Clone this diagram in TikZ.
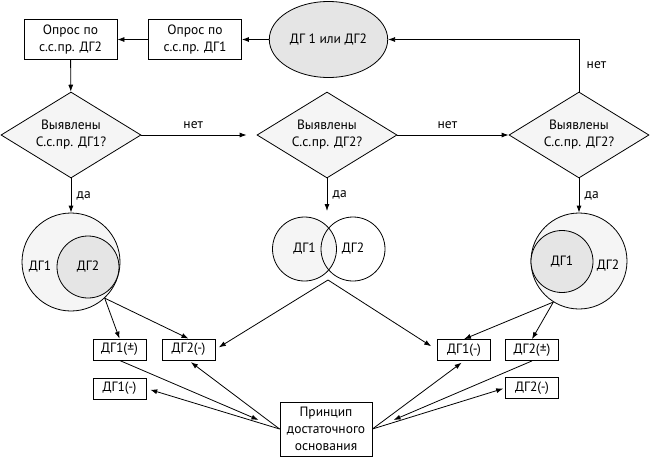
\documentclass[tikz,border=0pt]{standalone}
\usepackage{fontspec}
\setmainfont{PT Sans}
\usepackage{tikz}
\usetikzlibrary{shapes.geometric, arrows.meta}
\definecolor{lightfill}{gray}{0.96}
\definecolor{midfill}{gray}{0.90}
\tikzstyle{arrow} = [line width=0.8pt,-{Latex[length=7pt,width=5pt]}]
\tikzstyle{querybox} = [draw, line width=0.8pt, fill=white, minimum width=93pt, minimum height=40pt, align=center, inner sep=0pt]
\tikzstyle{decision} = [diamond, draw, line width=0.8pt, fill=lightfill, minimum width=140pt, minimum height=86pt, aspect=1.6, align=center, inner sep=0pt]
\tikzstyle{result} = [draw, line width=0.8pt, minimum width=53pt, minimum height=21pt, inner sep=0pt]
\tikzstyle{set} = [circle, draw, line width=0.8pt, inner sep=0pt]

\begin{document}
\begin{tikzpicture}[x=1pt,y=-1pt,font=\fontsize{13.5}{17}\selectfont]
\useasboundingbox (0,0) rectangle (650,456);

%top row
\node[querybox] (ask2) at (70.5,39.5) {Опрос по\\с.с.пр. ДГ2};
\node[querybox] (ask1) at (195,39.5) {Опрос по\\с.с.пр. ДГ1};
\node[ellipse, draw, line width=0.8pt, fill=midfill, minimum width=111pt, minimum height=76pt] (start) at (328.5,39.5) {ДГ 1 или ДГ2};

%questions
\node[decision] (q1) at (71,135) {Выявлены\\С.с.пр. ДГ1?};
\node[decision] (q2) at (327,135) {Выявлены\\С.с.пр. ДГ2?};
\node[decision] (q3) at (579,135) {Выявлены\\С.с.пр. ДГ2?};

%sets
\node[set, fill=lightfill, minimum size=98pt] (big1) at (71,262) {};
\node[set, fill=midfill, minimum size=62pt] (in1) at (88,267) {ДГ2};
\node at (40,267) {ДГ1};

\node[set, fill=lightfill, minimum size=64pt] (v1) at (304.5,249) {ДГ1};
\node[set, minimum size=64pt] (v2) at (353,249) {ДГ2};
\coordinate (venntop) at (327,211);
\coordinate (split) at (328,280);

\node[set, fill=lightfill, minimum size=96pt] (big3) at (579,261) {};
\node[set, fill=midfill, minimum size=62pt] (in3) at (562,261.5) {ДГ1};
\node at (608,266) {ДГ2};

%results
\node[result] (r1p) at (119.5,349.5) {ДГ1(±)};
\node[result] (r2m) at (188.5,349.5) {ДГ2(-)};
\node[result] (r1m) at (119.5,388.5) {ДГ1(-)};
\node[result] (s1m) at (464,350) {ДГ1(-)};
\node[result] (s2p) at (532,350) {ДГ2(±)};
\node[result] (s2m) at (532,388) {ДГ2(-)};
\node[draw, line width=0.8pt, align=center, minimum width=92pt, minimum height=54pt, inner sep=0pt] (reason) at (326,429) {Принцип\\достаточного\\основания};

%flow
\draw[arrow] (start) -- (ask1);
\draw[arrow] (ask1) -- (ask2);
\draw[arrow] (ask2) -- (q1);
\draw[arrow, shorten >=10pt] (q1) -- node[above=3pt, pos=0.45] {нет} (q2);
\draw[arrow] (q2) -- node[above=3pt, pos=0.45] {нет} (q3);
\draw[arrow] (q3.north) |- node[pos=0.25, right=4pt] {нет} (start.east);
\draw[arrow] (q1.south) -- node[right=2pt] {да} (big1.north);
\draw[arrow] (q2.south) -- node[right=2pt] {да} (venntop);
\draw[arrow] (q3.south) -- node[right=2pt] {да} (big3.north);

%to results
\draw[arrow] (big1.-47) -- (r1p.north);
\draw[arrow] (big1.-47) -- (r2m.north);
\draw[arrow, shorten >=4pt] (split) -- (r2m.east);
\draw[arrow, shorten >=7pt] (split) -- (s1m.west);
\draw[arrow] (big3.-122) -- (s1m.north);
\draw[arrow] (big3.-122) -- (s2p.north);

%principle
\draw[arrow, shorten >=3pt] (reason.west) -- (r2m.south);
\draw[arrow, shorten >=4pt] (reason.west) -- (r1m.east);
\draw[arrow, shorten >=23pt] (r1p.south) -- (reason.west);
\draw[arrow, shorten >=3pt] (reason.east) -- (s1m.south);
\draw[arrow, shorten >=2pt] (reason.east) -- (s2m.west);
\draw[arrow, shorten >=23pt] (s2p.south) -- (reason.east);

\end{tikzpicture}
\end{document}
